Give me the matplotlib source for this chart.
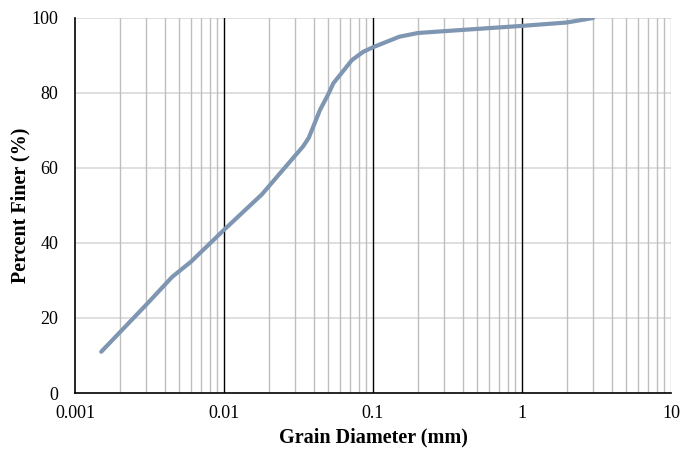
import numpy as np
import matplotlib
matplotlib.use("Agg")
import matplotlib.pyplot as plt
from matplotlib.ticker import FixedLocator, NullFormatter

# grain size distribution
diameter_mm = [0.0015, 0.003, 0.0045, 0.006, 0.01, 0.018, 0.029, 0.034, 0.037,
               0.0397, 0.0441, 0.05, 0.0542, 0.0723, 0.0861, 0.1, 0.15, 0.2,
               0.33, 1.0, 2.0, 3.0]
percent_finer = [11, 23.5, 31, 35, 43.5, 53, 62.6, 65.8, 68.0,
                 71, 75.5, 79.6, 82.6, 88.8, 91, 92.2, 95, 96,
                 96.6, 97.9, 98.8, 100]

x_ticks = [0.001, 0.01, 0.1, 1, 10]
x_tick_labels = ["0.001", "0.01", "0.1", "1", "10"]
y_ticks = [0, 20, 40, 60, 80, 100]

plt.rcParams['font.family'] = ['Liberation Serif', 'DejaVu Serif']

fig = plt.figure(figsize=(6.92, 4.5), dpi=100)
ax = fig.add_axes([75 / 692, 57 / 450, 596 / 692, 375 / 450])

ax.set_xscale('log')
ax.set_xlim(0.001, 10)
ax.set_ylim(0, 100)

# horizontal gridlines
for yv in y_ticks[1:]:
    ax.axhline(yv, color='#d9d9d9', lw=1.2, zorder=1)

# vertical gridlines: minor grey, decades black
minor = [m * 10.0 ** e for e in range(-3, 1) for m in range(2, 10)]
for xv in minor + [10]:
    ax.axvline(xv, color='#bfbfbf', lw=1.0, zorder=1)
for xv in [0.01, 0.1, 1]:
    ax.axvline(xv, color='black', lw=1.0, zorder=2)

ax.plot(diameter_mm, percent_finer, color='#7f96b2', lw=3.0,
        solid_joinstyle='round', solid_capstyle='round', zorder=3)

for s in ['top', 'right']:
    ax.spines[s].set_visible(False)
for s in ['left', 'bottom']:
    ax.spines[s].set_color('black')
    ax.spines[s].set_linewidth(1.2)

ax.xaxis.set_major_locator(FixedLocator(x_ticks))
ax.set_xticklabels(x_tick_labels)
ax.xaxis.set_minor_formatter(NullFormatter())
ax.set_yticks(y_ticks)
ax.tick_params(axis='both', which='both', length=0, labelsize=13, colors='black')
ax.tick_params(axis='x', pad=9)
ax.tick_params(axis='y', pad=12)

# axis titles placed in figure pixels like the reference
fig.text(373 / 692, 1 - 437 / 450, 'Grain Diameter (mm)', fontsize=14.5,
         fontweight='bold', ha='center', va='center')
fig.text(20 / 692, 1 - 205 / 450, 'Percent Finer (%)', fontsize=14.5,
         fontweight='bold', ha='center', va='center', rotation=90)

fig.savefig('out.png', dpi=100)
